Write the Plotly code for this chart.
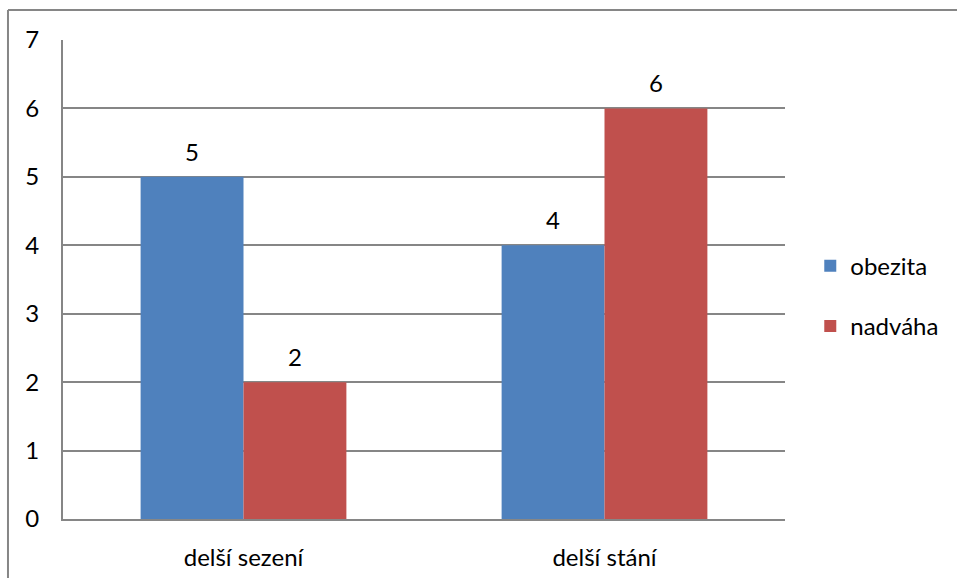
import plotly.graph_objects as go

categories = ["delší sezení", "delší stání"]
series_names = ["obezita", "nadváha"]
obezita = [5, 4]
nadvaha = [2, 6]
y_ticks = [0, 1, 2, 3, 4, 5, 6, 7]

colors = ["#4F81BD", "#C0504D"]
FONT = "Lato, 'Noto Sans', sans-serif"
FS = 24

fig = go.Figure()
values_list = [obezita, nadvaha]
for i, (name, vals) in enumerate(zip(series_names, values_list)):
    fig.add_trace(go.Bar(
        x=categories, y=vals, name=name,
        marker=dict(color=colors[i], line=dict(width=0)),
        legendgroup=name,
    ))

# value labels above bars
bar_px = 103
for i, vals in enumerate(values_list):
    shift = (-0.5 if i == 0 else 0.5) * bar_px
    for c, v in zip(categories, vals):
        fig.add_annotation(x=c, y=v, text=str(v), showarrow=False,
                           xshift=shift, yshift=9, yanchor="bottom",
                           font=dict(size=FS, color="#000000", family=FONT))

fig.update_layout(
    width=957, height=578,
    margin=dict(l=63, r=172, t=40, b=59),
    paper_bgcolor="white", plot_bgcolor="white",
    font=dict(family=FONT, size=FS, color="#000000"),
    barmode="group", bargap=0.43, bargroupgap=0,
    showlegend=True,
    legend=dict(x=1.035, y=0.465, xanchor="left", yanchor="middle",
                traceorder="grouped", tracegroupgap=26,
                font=dict(size=FS, family=FONT, color="#000000"),
                itemclick=False),
    xaxis=dict(showgrid=False, showline=True, linecolor="#868686", linewidth=2,
               ticks="outside", ticklen=16, tickcolor="rgba(0,0,0,0)",
               tickfont=dict(size=FS, family=FONT), fixedrange=True,
               automargin=False),
    yaxis=dict(range=[0, 7], tickvals=y_ticks, showgrid=True, gridcolor="#868686",
               gridwidth=1.5, showline=True, linecolor="#868686", linewidth=2,
               zeroline=False, ticks="outside", ticklen=17,
               tickcolor="rgba(0,0,0,0)", tickfont=dict(size=FS, family=FONT),
               fixedrange=True, automargin=False),
)

# outer chart border (left and top edges visible)
fig.add_shape(type="line", xref="paper", yref="paper",
              x0=-0.0762, x1=1.30, y0=1.0626, y1=1.0626,
              line=dict(color="#868686", width=2))
fig.add_shape(type="line", xref="paper", yref="paper",
              x0=-0.0762, x1=-0.0762, y0=1.0626, y1=-0.2,
              line=dict(color="#868686", width=2))

fig.write_html("out.html")
